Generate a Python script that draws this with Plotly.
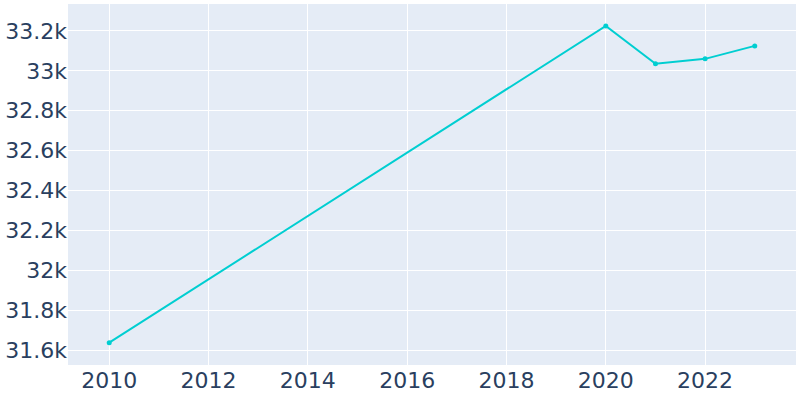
import plotly.graph_objects as go

years = [2010, 2020, 2021, 2022, 2023]
population = [31637, 33225, 33035, 33060, 33125]

fig = go.Figure()
fig.add_trace(go.Scatter(
    x=years, y=population, mode="lines+markers",
    line=dict(color="#00CED1", width=2),
    marker=dict(color="#00CED1", size=5),
))
fig.update_layout(
    width=800, height=400,
    margin=dict(l=68, r=4, t=4, b=35, autoexpand=False),
    template="plotly",
    font=dict(family="DejaVu Sans", size=22, color="#2a3f5f"),
    showlegend=False,
)
fig.update_xaxes(range=[2009.17, 2023.83], dtick=2, tick0=2010)
fig.update_yaxes(range=[31525, 33335], dtick=200, tickformat="~s")
fig.write_html("out.html", config={"displayModeBar": False},
               post_script="document.body.style.margin='0';document.body.style.overflow='hidden';")
